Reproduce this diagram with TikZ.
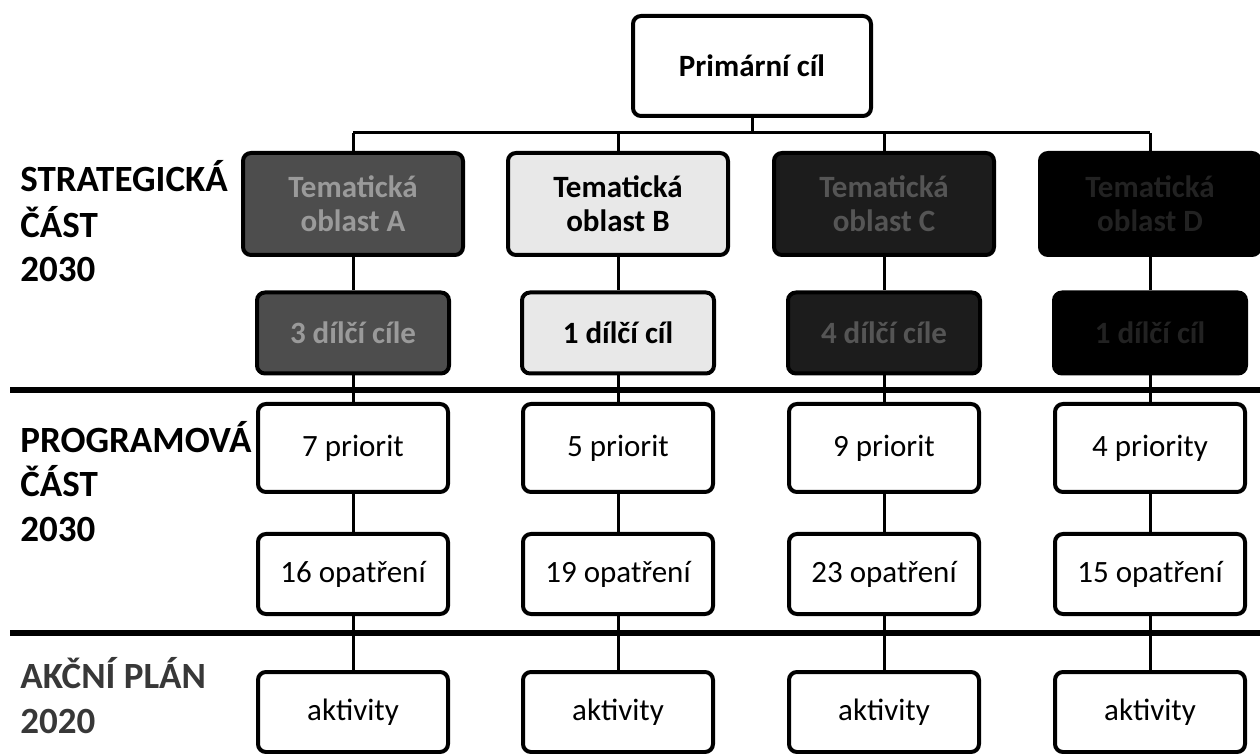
\documentclass[tikz,border=0pt]{standalone}
\usepackage{fontspec}
\setmainfont{Carlito}
\usetikzlibrary{positioning}
\definecolor{fillA}{HTML}{4D4D4D}
\definecolor{textA}{HTML}{9A9A9A}
\definecolor{fillB}{HTML}{E8E8E8}
\definecolor{fillC}{HTML}{1C1C1C}
\definecolor{textC}{HTML}{555555}
\definecolor{fillD}{HTML}{000000}
\definecolor{textD}{HTML}{222222}
\newcommand{\boxsize}{\fontsize{15.5}{17}\selectfont}
\newcommand{\lblsize}{\fontsize{18.5}{20}\selectfont}

\begin{document}
\begin{tikzpicture}[x=0.5pt,y=-0.5pt,
  box/.style={draw, line width=2pt, rounded corners=4pt, align=center, inner sep=1pt, font=\boxsize},
  goalbox/.style={box, minimum width=119pt, minimum height=50pt, font=\boxsize\bfseries},
  areabox/.style={box, minimum width=110pt, minimum height=51pt, font=\boxsize\bfseries},
  subbox/.style={box, minimum width=96pt, minimum height=40.5pt, font=\boxsize\bfseries},
  lowbox/.style={box, minimum width=95pt, minimum height=40pt},
  link/.style={line width=1.5pt},
  sep/.style={line width=2.6pt},
  lbl/.style={anchor=base west, inner sep=0pt, font=\lblsize\bfseries},
  lblgray/.style={lbl, black!78}]
\useasboundingbox (0,0) rectangle (1260,754);

% level separators
\draw[sep] (10,390) -- (1260,390);
\draw[sep] (10,633) -- (1260,633);

% left labels
\node[lbl] (s1) at (20,192) {STRATEGICKÁ};
\node[lbl] (s2) at (20,238) {ČÁST};
\node[lbl] (s3) at (20,282) {2030};
\node[lbl] (p1) at (20,452) {PROGRAMOVÁ};
\node[lbl] (p2) at (20,497) {ČÁST};
\node[lbl] (p3) at (20,542) {2030};
\node[lblgray] (a1) at (20,688) {AKČNÍ PLÁN};
\node[lblgray] (a2) at (20,733) {2020};

% primary goal and bus
\node[goalbox] (goal) at (752,66) {Primární cíl};
\coordinate (busL) at (353,133);
\coordinate (busR) at (1150,133);
\draw[link] (busL) -- (busR);
\draw[link] (goal.south) -- (goal.south |- busL);

% thematic areas
\node[areabox, fill=fillA, text=textA] (tA) at (353,204) {Tematická\\oblast A};
\node[areabox, fill=fillB] (tB) at (618,204) {Tematická\\oblast B};
\node[areabox, fill=fillC, text=textC] (tC) at (884,204) {Tematická\\oblast C};
\node[areabox, fill=fillD, text=textD] (tD) at (1150,204) {Tematická\\oblast D};

% partial goals
\node[subbox, fill=fillA, text=textA] (sA) at (353,333) {3 dílčí cíle};
\node[subbox, fill=fillB] (sB) at (618,333) {1 dílčí cíl};
\node[subbox, fill=fillC, text=textC] (sC) at (884,333) {4 dílčí cíle};
\node[subbox, fill=fillD, text=textD] (sD) at (1150,333) {1 dílčí cíl};

% programme part and action plan
\foreach \c/\x/\pr/\op in {A/353/7 priorit/16 opatření, B/618/5 priorit/19 opatření,
                           C/884/9 priorit/23 opatření, D/1150/4 priority/15 opatření} {
  \node[lowbox, minimum height=44pt] (r\c) at (\x,448) {\pr};
  \node[lowbox] (o\c) at (\x,574) {\op};
  \node[lowbox] (k\c) at (\x,712) {aktivity};
  \draw[link] (t\c.north |- busL) -- (t\c.north);
  \draw[link] (t\c) -- (s\c);
  \draw[link] (s\c) -- (r\c);
  \draw[link] (r\c) -- (o\c);
  \draw[link] (o\c) -- (k\c);
}
\end{tikzpicture}
\end{document}
